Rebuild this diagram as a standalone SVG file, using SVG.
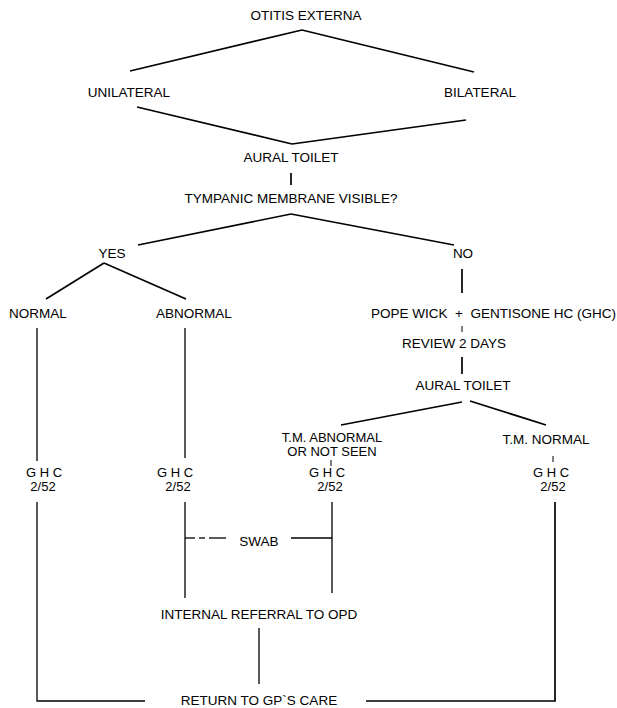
<svg xmlns="http://www.w3.org/2000/svg" width="617" height="708" viewBox="0 0 617 708">
<style>
text{font-family:"Liberation Sans",Arial,sans-serif;font-size:13.5px;fill:#000;text-anchor:middle}
.s{font-size:13px}
.c line,.c polyline{stroke:#000;fill:none;stroke-linecap:butt}
.d{stroke-width:1.7}
.v{stroke-width:1.3}
.t{stroke-width:1}
</style>
<rect width="617" height="708" fill="#fff"/>
<g id="connectors" class="c">
<line class="d" x1="302" y1="30" x2="130" y2="71"/>
<line class="d" x1="302" y1="30" x2="474" y2="72"/>
<line class="d" x1="137" y1="107" x2="292" y2="144"/>
<line class="d" x1="292" y1="144" x2="466" y2="120"/>
<line class="d" x1="291" y1="173" x2="291" y2="185"/>
<line class="d" x1="291" y1="214" x2="138" y2="245"/>
<line class="d" x1="291" y1="214" x2="454" y2="245"/>
<line class="d" x1="104" y1="263" x2="46" y2="299"/>
<line class="d" x1="104" y1="263" x2="186" y2="299"/>
<line class="d" x1="462" y1="269" x2="462" y2="293"/>
<line class="t" x1="462" y1="326" x2="462" y2="332"/>
<line class="d" x1="462" y1="357" x2="462" y2="374"/>
<line class="d" x1="462" y1="402" x2="341" y2="425"/>
<line class="d" x1="470" y1="401" x2="546" y2="425"/>
<line class="t" x1="331" y1="460" x2="331" y2="466"/>
<line class="t" x1="553" y1="456" x2="553" y2="462"/>
<line class="v" x1="37" y1="328" x2="37" y2="461"/>
<polyline class="v" points="37,502 37,701 145,701"/>
<line class="v" x1="185" y1="328" x2="185" y2="458"/>
<line class="v" x1="185" y1="502" x2="185" y2="598"/>
<line class="v" x1="185" y1="538" x2="195" y2="538"/>
<line class="v" x1="199" y1="538" x2="205" y2="538"/>
<line class="v" x1="209" y1="538" x2="226" y2="538"/>
<line class="v" x1="291" y1="538" x2="332" y2="538"/>
<line class="v" x1="332" y1="502" x2="332" y2="593"/>
<polyline class="d" points="555,502 555,701 366,701"/>
<line class="v" x1="259" y1="628" x2="259" y2="684"/>
</g>
<g id="n-otitis"><text x="306" y="20">OTITIS EXTERNA</text></g>
<g id="n-unilateral"><text x="129" y="97">UNILATERAL</text></g>
<g id="n-bilateral"><text x="480" y="97">BILATERAL</text></g>
<g id="n-aural1"><text x="291" y="162">AURAL TOILET</text></g>
<g id="n-tympanic"><text x="291" y="203">TYMPANIC MEMBRANE VISIBLE?</text></g>
<g id="n-yes"><text x="112" y="258">YES</text></g>
<g id="n-no"><text x="463" y="258">NO</text></g>
<g id="n-normal"><text x="38" y="318">NORMAL</text></g>
<g id="n-abnormal"><text x="194" y="318">ABNORMAL</text></g>
<g id="n-pope"><text x="616" y="318" style="text-anchor:end" xml:space="preserve">POPE WICK  +  GENTISONE HC (GHC)</text></g>
<g id="n-review"><text x="454" y="348">REVIEW 2 DAYS</text></g>
<g id="n-aural2"><text x="463" y="390">AURAL TOILET</text></g>
<g id="n-tmabn"><text class="s" x="332" y="442">T.M. ABNORMAL</text><text class="s" x="332" y="456">OR NOT SEEN</text></g>
<g id="n-tmnorm"><text x="546" y="444">T.M. NORMAL</text></g>
<g id="n-ghc1"><text class="s" x="44" y="477">G H C</text><text class="s" x="43" y="491">2/52</text></g>
<g id="n-ghc2"><text class="s" x="175" y="477">G H C</text><text class="s" x="178" y="491">2/52</text></g>
<g id="n-ghc3"><text class="s" x="327" y="477">G H C</text><text class="s" x="330" y="491">2/52</text></g>
<g id="n-ghc4"><text class="s" x="551" y="477">G H C</text><text class="s" x="553" y="491">2/52</text></g>
<g id="n-swab"><text x="259" y="546">SWAB</text></g>
<g id="n-internal"><text x="259" y="619">INTERNAL REFERRAL TO OPD</text></g>
<g id="n-return"><text x="259" y="705">RETURN TO GP`S CARE</text></g>
</svg>
